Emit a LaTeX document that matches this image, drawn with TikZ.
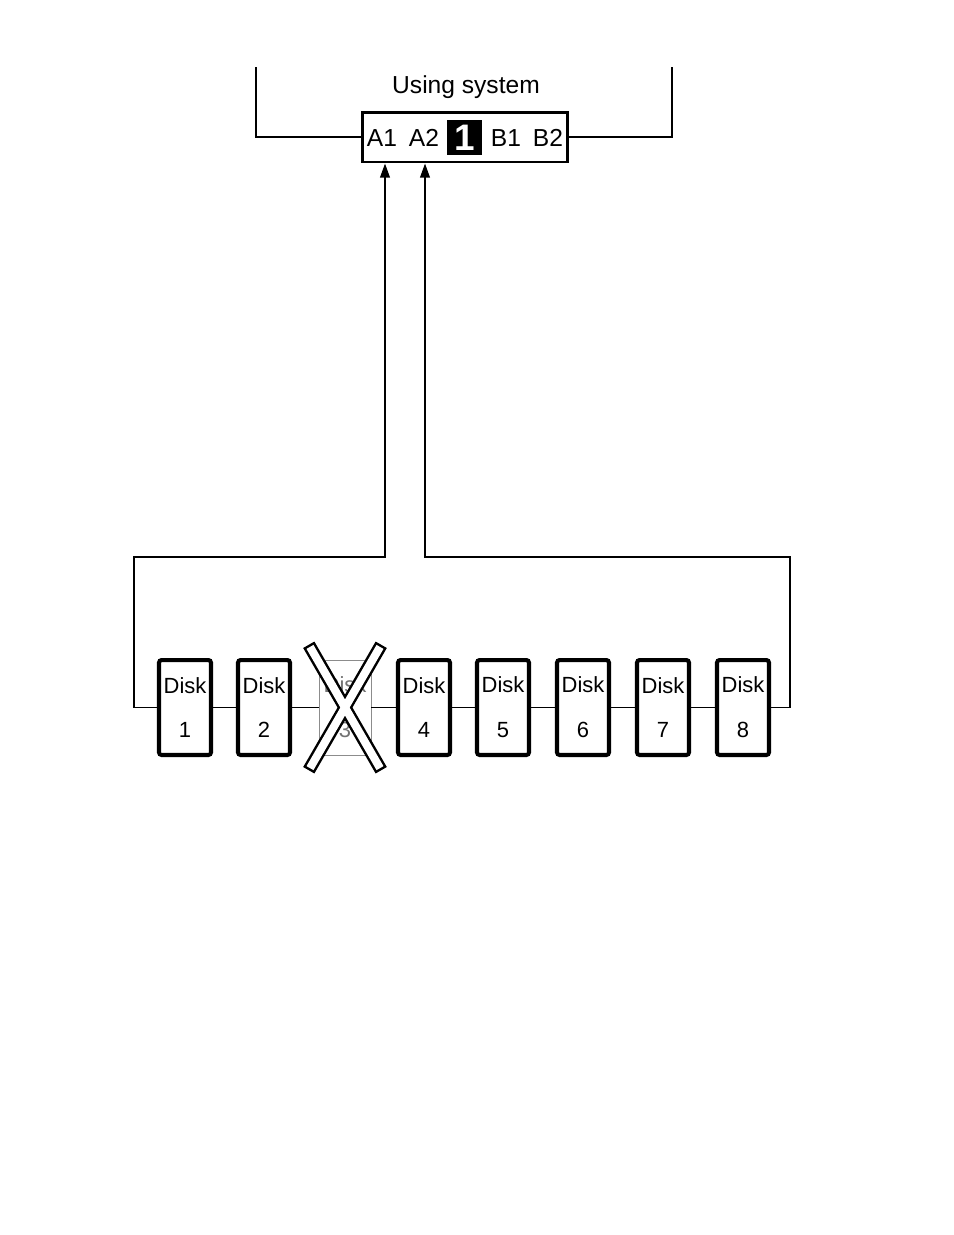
\documentclass[tikz,border=0pt]{standalone}
\usepackage{fontspec}
\setmainfont{Liberation Sans}
\usetikzlibrary{positioning,calc,arrows.meta}

\tikzset{
    disk/.style={draw, line width=2.3pt, rounded corners=1.5pt, fill=white, minimum width=1.04cm, minimum height=1.9cm, inner sep=0pt, align=center, font=\fontsize{12.5}{25.5}\selectfont},
    deaddisk/.style={draw=black!45, line width=0.5pt, fill=white, minimum width=1.04cm, minimum height=1.9cm, inner sep=0pt, align=center, text=black!55, font=\fontsize{12.5}{25.5}\selectfont},
    crossline/.style={draw, line width=2.8pt, minimum width=2.8cm, minimum height=0.16cm, inner sep=0pt},
    crossfill/.style={fill=white, minimum width=2.8cm, minimum height=0.16cm, inner sep=0pt},
    wire/.style={line width=1pt},
    port/.style={font=\fontsize{14}{16}\selectfont}
}

\begin{document}
\begin{tikzpicture}[x=0.02cm, y=-0.02cm]
    \useasboundingbox (0,0) rectangle (954,1235);

    % Using system
    \node[draw, line width=1.7pt, minimum width=4.12cm, minimum height=1cm, inner sep=0pt] (sys) at (465,137) {};
    \node[port] (title) at (466,87) {Using system};
    \node[port] (a1) at (382,138) {A1};
    \node[port] (a2) at (424,138) {A2};
    \node[fill=black, text=white, minimum width=0.7cm, minimum height=0.7cm, inner sep=0pt, font=\fontsize{21}{21}\bfseries] (one) at (464.5,137.5) {1};
    \node[port] (b1) at (506,138) {B1};
    \node[port] (b2) at (548,138) {B2};
    \draw[wire] (sys.west) -- (256,137) -- (256,67);
    \draw[wire] (sys.east) -- (672,137) -- (672,67);

    % Disks
    \foreach \i/\x in {1/185,2/264,4/424,5/503,6/583,7/663,8/743}
        \node[disk] (d\i) at (\x,707.5) {Disk\\\i};
    \node[deaddisk] (d3) at (345,707.5) {Disk\\3};

    % Loop between disks
    \foreach \a/\b in {1/2,2/3,3/4,4/5,5/6,6/7,7/8}
        \draw[wire] (d\a.east) -- (d\b.west);

    % Failed disk
    \node[crossline, rotate=60] (x1) at (d3) {};
    \node[crossline, rotate=-60] (x2) at (d3) {};
    \node[crossfill, rotate=60] at (x1) {};
    \node[crossfill, rotate=-60] at (x2) {};

    % Paths to the system
    \coordinate (pA) at (385,557);
    \coordinate (pB) at (425,557);
    \draw[wire, -{Triangle[length=8pt,width=5.5pt]}] (d1.west) -- (134,707.5) -- (134,557) -- (pA) -- (pA |- sys.south);
    \draw[wire, -{Triangle[length=8pt,width=5.5pt]}] (d8.east) -- (790,707.5) -- (790,557) -- (pB) -- (pB |- sys.south);
\end{tikzpicture}
\end{document}
